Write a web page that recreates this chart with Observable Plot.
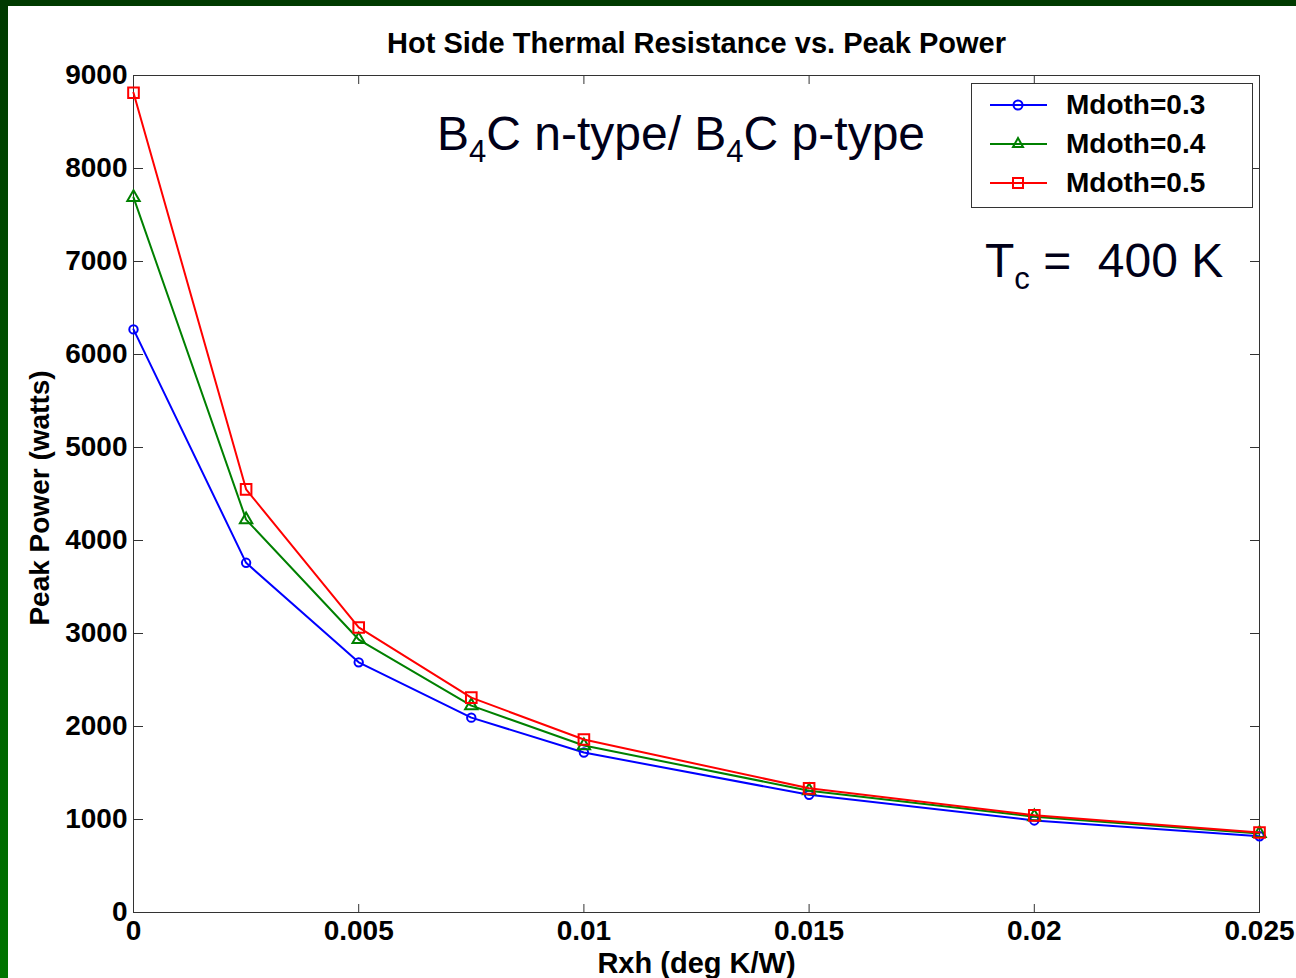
<!DOCTYPE html>
<html>
<head>
<meta charset="utf-8">
<script src="https://cdn.jsdelivr.net/npm/d3@7"></script>
<script src="https://cdn.jsdelivr.net/npm/@observablehq/plot@0.6"></script>
<style>
  html, body { margin: 0; padding: 0; }
  body { width: 1296px; height: 978px; overflow: hidden; font-family: "Liberation Sans", Arial, sans-serif; }
  #page { position: absolute; left: 0; top: 0; width: 1296px; height: 978px;
          background: linear-gradient(to bottom, #003a00, #005800 50%, #007400); }
  #paper { position: absolute; left: 8px; top: 6px; width: 1288px; height: 972px; background: #fff; }
  #chart { position: absolute; left: 0; top: 0; }
  .ann { position: absolute; color: #000018; font-size: 48px; line-height: 1; white-space: pre; font-weight: normal; }
  .ann .sub { font-size: 31px; vertical-align: -12px; }
  #legend { position: absolute; left: 963px; top: 77px; width: 280px; height: 123px; border: 1px solid #333; background: #fff; }
  .lrow { position: absolute; left: 0; height: 36px; display: flex; align-items: center; }
  .lrow svg { margin-left: 18px; }
  .lrow span { margin-left: 19px; font-weight: bold; font-size: 28px; color: #000; }
</style>
</head>
<body>
<div id="page"><div id="paper"><div id="chart"></div>
  <div class="ann" style="left:429px; top:104px;">B<span class="sub">4</span>C n-type/ B<span class="sub">4</span>C p-type</div>
  <div class="ann" style="left:977px; top:231px;">T<span class="sub">c</span> =  400 K</div>
  <div id="legend"></div>
</div></div>
<script>
const rxh = [0, 0.0025, 0.005, 0.0075, 0.01, 0.015, 0.02, 0.025];
const mdot03 = [6270, 3760, 2690, 2095, 1720, 1265, 990, 820];
const mdot04 = [7690, 4225, 2935, 2225, 1795, 1310, 1030, 850];
const mdot05 = [8815, 4550, 3065, 2310, 1860, 1335, 1045, 860];
const seriesNames = ["Mdoth=0.3", "Mdoth=0.4", "Mdoth=0.5"];
const seriesColors = ["#0000ff", "#008000", "#ff0000"];
const seriesSymbols = ["circle", "triangle", "square"];
const seriesR = [4.2, 4.6, 6];
const xTicks = [0, 0.005, 0.01, 0.015, 0.02, 0.025];
const yTicks = [0, 1000, 2000, 3000, 4000, 5000, 6000, 7000, 8000, 9000];
const title = "Hot Side Thermal Resistance vs. Peak Power";
const xLabel = "Rxh (deg K/W)";
const yLabel = "Peak Power (watts)";

const seriesValues = [mdot03, mdot04, mdot05];
const rows = seriesValues.flatMap((vals, i) => vals.map((v, j) => ({x: rxh[j], y: v, s: seriesNames[i]})));

const marks = [
  Plot.frame({stroke: "#333"}),
  Plot.axisX({ticks: xTicks, tickSize: 0, tickPadding: 8, tickFormat: d => String(+d.toFixed(4)), fontSize: 28, label: null}),
  Plot.axisX({ticks: xTicks, tickSize: -8, fill: "none", stroke: "#333", label: null}),
  Plot.axisX({anchor: "top", ticks: xTicks, tickSize: -8, fill: "none", stroke: "#333", label: null}),
  Plot.axisY({ticks: yTicks, tickSize: 0, tickPadding: 6, tickFormat: d => String(d), fontSize: 28, label: null}),
  Plot.axisY({ticks: yTicks, tickSize: -10, fill: "none", stroke: "#333", label: null}),
  Plot.axisY({anchor: "right", ticks: yTicks, tickSize: -10, fill: "none", stroke: "#333", label: null}),
];
seriesNames.forEach((name, i) => {
  const d = rows.filter(r => r.s === name);
  marks.push(Plot.line(d, {x: "x", y: "y", stroke: seriesColors[i], strokeWidth: 2}));
  marks.push(Plot.dot(d, {x: "x", y: "y", stroke: seriesColors[i], symbol: seriesSymbols[i], r: seriesR[i], strokeWidth: 2, fill: "none"}));
});
marks.push(Plot.text([title], {frameAnchor: "top", dy: -32, fontSize: 29, fontWeight: "bold", lineAnchor: "middle"}));
marks.push(Plot.text([xLabel], {frameAnchor: "bottom", dy: 51, fontSize: 29, fontWeight: "bold", lineAnchor: "middle"}));
marks.push(Plot.text([yLabel], {frameAnchor: "left", dx: -93, dy: 4, rotate: -90, fontSize: 28, fontWeight: "bold", lineAnchor: "middle", textAnchor: "middle"}));

const chart = Plot.plot({
  width: 1288,
  height: 972,
  marginLeft: 125,
  marginTop: 69,
  marginRight: 37,
  marginBottom: 66,
  x: {domain: [0, 0.025]},
  y: {domain: [0, 9000]},
  style: {fontFamily: "'Liberation Sans', Arial, sans-serif", fontWeight: "bold", color: "#000", background: "#fff", overflow: "visible"},
  marks
});
document.getElementById("chart").appendChild(chart);

// legend
const legend = document.getElementById("legend");
seriesNames.forEach((name, i) => {
  const row = document.createElement("div");
  row.className = "lrow";
  row.style.top = (3 + i * 39) + "px";
  const sym = seriesSymbols[i];
  let shape;
  if (sym === "circle") shape = `<circle cx="28" cy="10" r="4.5" fill="none" stroke="${seriesColors[i]}" stroke-width="2"/>`;
  else if (sym === "triangle") shape = `<path d="M28,4 L33,13 L23,13 Z" fill="none" stroke="${seriesColors[i]}" stroke-width="2"/>`;
  else shape = `<rect x="23" y="5" width="10" height="10" fill="none" stroke="${seriesColors[i]}" stroke-width="2"/>`;
  row.innerHTML = `<svg width="57" height="20"><line x1="0" y1="10" x2="57" y2="10" stroke="${seriesColors[i]}" stroke-width="2"/>${shape}</svg><span>${name}</span>`;
  legend.appendChild(row);
});
</script>
</body>
</html>
